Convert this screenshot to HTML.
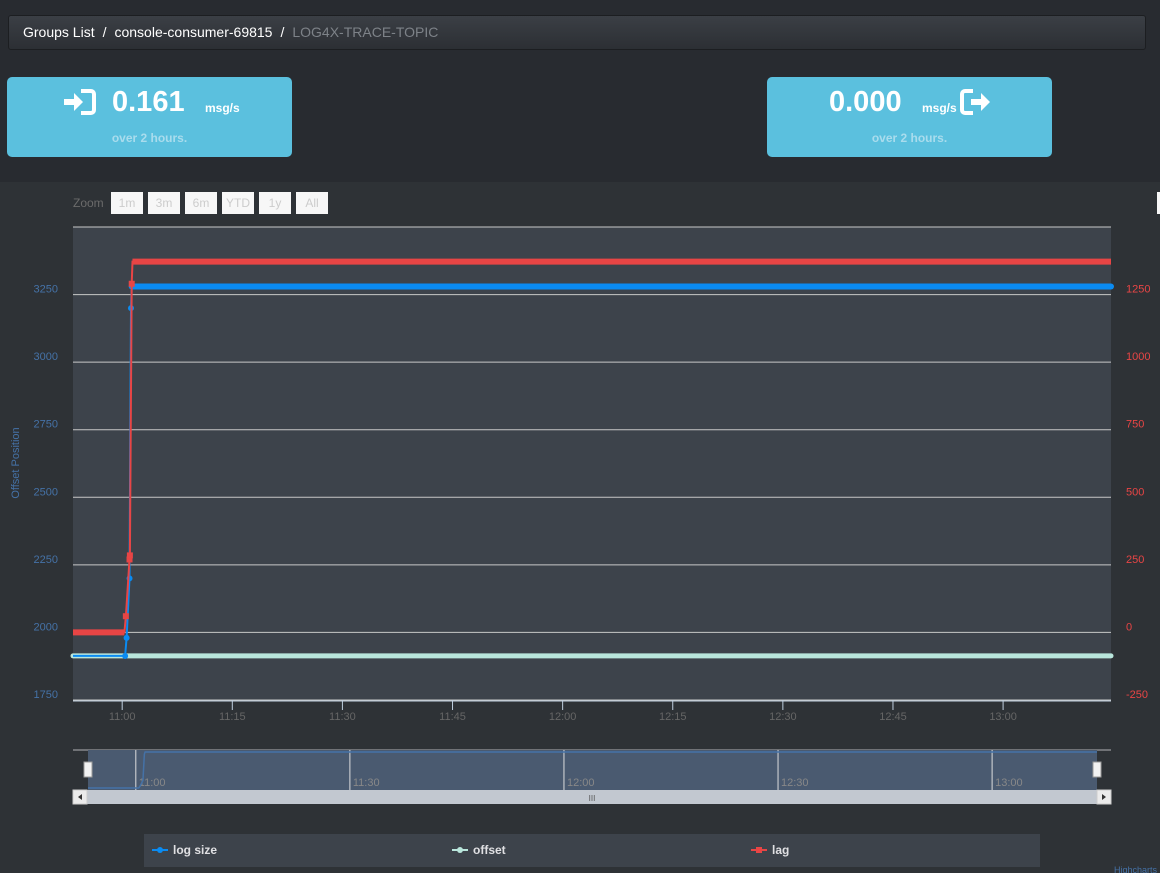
<!DOCTYPE html>
<html><head><meta charset="utf-8"><style>
body{margin:0;width:1160px;height:873px;background:#282b30;font-family:"Liberation Sans",sans-serif;overflow:hidden;position:relative}
.bc{position:absolute;left:8px;top:15px;width:1138px;height:35px;background:linear-gradient(#3b3f45,#2c2f34);border:1px solid #1c1e21;border-radius:3px;box-sizing:border-box;font-size:14px;color:#fff;line-height:33px;padding-left:14px}
.bc .sep{margin:0 8px}
.bc .cur{color:#7d8288}
.card{position:absolute;top:77px;width:285px;height:80px;background:#5bc0de;border-radius:5px;color:#fff;text-align:center}
.big{position:absolute;top:9px;font-size:29px;font-weight:bold}
.unit{position:absolute;top:24px;font-size:12px;font-weight:bold}
.sub{position:absolute;top:54px;width:100%;text-align:center;font-size:12px;font-weight:bold;color:#a9dced}
.chartbg{position:absolute;left:0;top:182px;width:1160px;height:691px;background:#2e3236}
svg{position:absolute;left:0;top:0}
</style></head><body>
<div class="bc"><span>Groups List</span><span class="sep">/</span><span>console-consumer-69815</span><span class="sep">/</span><span class="cur">LOG4X-TRACE-TOPIC</span></div>
<div class="card" style="left:7px">
<svg width="40" height="40" style="left:55px;top:6px"><path d="M2 16h10v-6l9 9-9 9v-6H2z" fill="#fff"/><path d="M19 8h10a3 3 0 0 1 3 3v16a3 3 0 0 1-3 3H19" fill="none" stroke="#fff" stroke-width="4"/></svg>
<div class="big" style="left:105px">0.161</div><div class="unit" style="left:198px">msg/s</div><div class="sub">over 2 hours.</div></div>
<div class="card" style="left:767px">
<div class="big" style="left:62px">0.000</div><div class="unit" style="left:155px">msg/s</div>
<svg width="40" height="40" style="left:192px;top:6px"><path d="M14 8H6a3 3 0 0 0-3 3v16a3 3 0 0 0 3 3h8" fill="none" stroke="#fff" stroke-width="4"/><path d="M12 16h10v-6l9 9-9 9v-6H12z" fill="#fff"/></svg>
<div class="sub">over 2 hours.</div></div>
<div class="chartbg"></div>
<svg id="c" width="1160" height="873" font-family="Liberation Sans, DejaVu Sans, sans-serif"></svg>
<script>
const leftTicks=[1750,2000,2250,2500,2750,3000,3250];
const rightTicks=[-250,0,250,500,750,1000,1250];
const xTickLabels=["11:00","11:15","11:30","11:45","12:00","12:15","12:30","12:45","13:00"];
const navTickLabels=["11:00","11:30","12:00","12:30","13:00"];
const logTimes=[-6.7,0.4,0.6,1.0,1.2,1.3,134.7];
const logValues=[1913,1913,1980,2200,3200,3280,3280];
const offTimes=[-6.7,134.7];
const offValues=[1913,1913];
const lagTimes=[-6.7,0.3,0.5,1.0,1.05,1.3,1.4,134.7];
const lagValues=[0,0,60,270,285,1290,1372,1372];
// minutes relative to 11:00
const S=document.getElementById('c'),NS='http://www.w3.org/2000/svg';
function el(t,a,p){const e=document.createElementNS(NS,t);for(const k in a)e.setAttribute(k,a[k]);(p||S).appendChild(e);return e}
const PL=73,PR=1111,PT=227,PB=700,T0=-6.7,T1=134.7;
const x=t=>PL+(t-T0)/(T1-T0)*(PR-PL);
const yL=v=>PB-(v-1750)/1750*(PB-PT);
const yR=v=>PB-(v+250)/1750*(PB-PT);
let e;
e=el('rect',{x:PL,y:PT,width:PR-PL,height:PB-PT,fill:'#3d434b'});


e=el('line',{x1:PL,x2:PR,y1:PT,y2:PT,stroke:'#c8c8c8'});
leftTicks.forEach((v,i)=>{
 e=el('line',{x1:PL,x2:PR,y1:yL(v),y2:yL(v),stroke:'#c8c8c8','stroke-width':1});
 
 
 e=el('text',{x:58,y:yL(v)-2,'text-anchor':'end','font-size':11,fill:'#4572a7'});e.textContent=v;
 
 
});
rightTicks.forEach(v=>{
 e=el('text',{x:1126,y:yR(v)-2,'font-size':11,fill:'#e84545'});e.textContent=v;
 
 
});
e=el('text',{x:0,y:0,transform:'translate(19,463) rotate(-90)','text-anchor':'middle','font-size':11,fill:'#4572a7'});e.textContent='Offset Position';


e=el('line',{x1:PL,x2:PR,y1:PB+1,y2:PB+1,stroke:'#c0d0e0'});
xTickLabels.forEach((l,i)=>{
 const xx=x(i*15);
 el('line',{x1:xx,x2:xx,y1:PB,y2:PB+10,stroke:'#c0d0e0'});
 e=el('text',{x:xx,y:720,'text-anchor':'middle','font-size':11,fill:'#666'});e.textContent=l;
 
 
});
function path(ts,vs,f){return ts.map((t,i)=>(i?'L':'M')+x(t).toFixed(1)+' '+f(vs[i]).toFixed(1)).join(' ')}
e=el('path',{d:path(offTimes,offValues,yL),stroke:'#b9e6dc','stroke-width':5,fill:'none','stroke-linecap':'round'});


e=el('path',{d:path(logTimes,logValues,yL),stroke:'#0a8bf2','stroke-width':2,fill:'none'});


e=el('path',{d:'M'+x(1.3)+' '+yL(3280)+' L'+x(T1)+' '+yL(3280),stroke:'#0a8bf2','stroke-width':6,fill:'none','stroke-linecap':'round'});
logTimes.slice(1,5).forEach((t,i)=>{e=el('circle',{cx:x(t),cy:yL(logValues[i+1]),r:3,fill:'#0a8bf2'});});
e=el('path',{d:path(lagTimes,lagValues,yR),stroke:'#e84545','stroke-width':2,fill:'none'});


el('path',{d:'M'+x(T0)+' '+yR(0)+' L'+x(0.3)+' '+yR(0),stroke:'#e84545','stroke-width':6});
el('path',{d:'M'+x(1.4)+' '+yR(1372)+' L'+x(T1)+' '+yR(1372),stroke:'#e84545','stroke-width':6});
lagTimes.slice(2,6).forEach((t,i)=>{e=el('rect',{x:x(t)-3,y:yR(lagValues[i+2])-3,width:6,height:6,fill:'#e84545'});});
// zoom buttons
e=el('text',{x:73,y:207,'font-size':12,fill:'#6b6b6b'});e.textContent='Zoom';
[['1m',111],['3m',148],['6m',185],['YTD',222],['1y',259],['All',296]].forEach(([l,bx])=>{
 e=el('rect',{x:bx,y:192,width:32,height:22,fill:'#f7f7f7'});
 
 
 const t=el('text',{x:bx+16,y:207,'text-anchor':'middle','font-size':12,fill:'#ccc'});t.textContent=l;
});
// navigator
const NL=88,NR=1097;
const nx=t=>NL+(t-T0)/(T1-T0)*(NR-NL);
const ny=v=>788-(v-1913)/(3280-1913)*36;
e=el('line',{x1:73,x2:1111,y1:750,y2:750,stroke:'#b2b1b6'});
e=el('rect',{x:NL,y:750,width:NR-NL,height:40,fill:'#4a5a70'});


navTickLabels.forEach((l,i)=>{const xx=nx(i*30);el('line',{x1:xx,x2:xx,y1:750,y2:790,stroke:'#ddd'});const t=el('text',{x:xx+3,y:786,'font-size':11,fill:'#888'});t.textContent=l;});
e=el('path',{d:logTimes.map((t,i)=>(i?'L':'M')+nx(t)+' '+ny(logValues[i])).join(' '),stroke:'#4572a7','stroke-width':1.5,fill:'none'});


[NL-4,NR-4].forEach(hx=>{e=el('rect',{x:hx,y:762,width:8,height:15,fill:'#f2f2f2',stroke:'#999'});});
e=el('rect',{x:73,y:790,width:1038,height:14,fill:'#c2c8d0'});


el('rect',{x:73,y:790,width:14,height:14,fill:'#ebebeb',stroke:'#ccc'});
el('rect',{x:1097,y:790,width:14,height:14,fill:'#ebebeb',stroke:'#ccc'});
el('path',{d:'M82 794l-4 3 4 3z',fill:'#333'});el('path',{d:'M1102 794l4 3-4 3z',fill:'#333'});
e=el('text',{x:592,y:801,'text-anchor':'middle','font-size':8,fill:'#555'});e.textContent='III';
// legend
e=el('rect',{x:144,y:834,width:896,height:33,fill:'#3d434b'});


[['log size',152,'#0a8bf2','c'],['offset',452,'#b9e6dc','d'],['lag',751,'#e84545','s']].forEach(([l,lx,c,m])=>{
 const g=el('g',{});
 
 
 el('line',{x1:lx,x2:lx+16,y1:850,y2:850,stroke:c,'stroke-width':2},g);
 if(m==='s')el('rect',{x:lx+5,y:847,width:6,height:6,fill:c},g);else el('circle',{cx:lx+8,cy:850,r:3,fill:c},g);
 const t=el('text',{x:lx+21,y:854,'font-size':12,'font-weight':'bold',fill:'#e0e0e3'},g);t.textContent=l;
});
e=el('text',{x:1114,y:873,'font-size':9,fill:'#4572a7'});e.textContent='Highcharts';
el('rect',{x:1157,y:192,width:5,height:22,fill:'#f7f7f7'});
</script>
</body></html>
